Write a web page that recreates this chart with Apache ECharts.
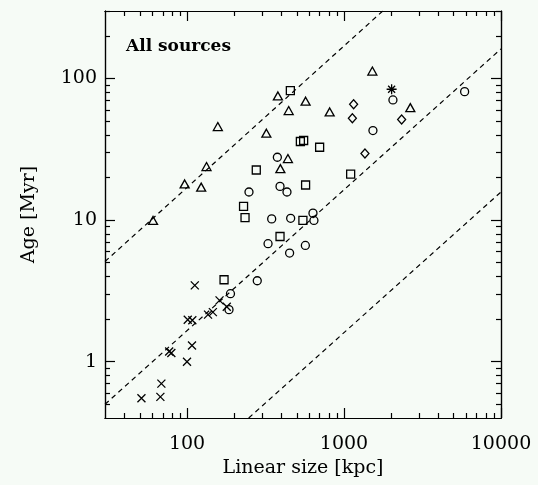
<!DOCTYPE html>
<html>
<head>
<meta charset="utf-8">
<script src="https://cdn.jsdelivr.net/npm/echarts@6/dist/echarts.min.js"></script>
<style>
  html, body { margin: 0; padding: 0; background: #f6fbf6; }
  #chart { width: 538px; height: 485px; }
</style>
</head>
<body>
<div id="chart"></div>
<script>
// linear size [kpc], age [Myr] for each symbol group
const triangles = [
  [157, 45.8], [379, 75.4], [444, 59.4], [320, 41.1], [133, 23.9],
  [96.5, 18.0], [123, 17.1], [60.7, 9.94], [439, 27.2], [393, 23.1],
  [1515, 113], [2644, 62.3], [810, 58.1], [569, 69.2]
];
const squares = [
  [455, 82.1], [276, 22.6], [229, 12.5], [234, 10.4], [391, 7.66],
  [527, 35.9], [553, 36.5], [699, 32.7], [1102, 21.1], [569, 17.7],
  [547, 9.94], [172, 3.79]
];
const circles = [
  [376, 27.8], [248, 15.8], [391, 17.3], [433, 15.8], [346, 10.2],
  [457, 10.3], [634, 11.2], [643, 9.94], [328, 6.81], [450, 5.85],
  [567, 6.62], [280, 3.73], [189, 3.02], [185, 2.33], [2049, 70.6],
  [5865, 80.8], [1528, 42.9]
];
const diamonds = [
  [1151, 65.9], [1130, 52.5], [2328, 51.3], [1359, 29.5]
];
const crosses = [
  [112, 3.46], [161, 2.71], [179, 2.44], [146, 2.24], [136, 2.15],
  [101, 1.98], [108, 1.96], [107.5, 1.30], [79.4, 1.15], [76.9, 1.18],
  [99.9, 1.00], [68.6, 0.70], [67.6, 0.564], [51.2, 0.551]
];
const stars = [[2010, 84.0]];

// dashed reference lines (end points)
const lineUpper = [[30, 5.1], [1765, 300]];
const lineMiddle = [[30, 0.5], [10000, 162]];
const lineLower = [[247, 0.4], [10000, 15.8]];

const xMajor = [100, 1000, 10000];
const xMinor = [40, 50, 60, 70, 80, 90, 200, 300, 400, 500, 600, 700, 800, 900,
  2000, 3000, 4000, 5000, 6000, 7000, 8000, 9000];
const yMajor = [1, 10, 100];
const yMinor = [0.5, 0.6, 0.7, 0.8, 0.9, 2, 3, 4, 5, 6, 7, 8, 9,
  20, 30, 40, 50, 60, 70, 80, 90, 200, 300];

const FONT = 'DejaVu Serif';
const INK = '#000';

function makeAxis(pos, min, max, ticks, len, opts) {
  return Object.assign({
    type: 'log',
    logBase: 10,
    min: min,
    max: max,
    position: pos,
    axisLine: { show: true, onZero: false, lineStyle: { color: INK, width: 1.2 } },
    axisTick: { show: true, inside: true, length: len, customValues: ticks,
      lineStyle: { color: INK, width: 1.2 } },
    axisLabel: { show: false },
    splitLine: { show: false },
    minorTick: { show: false }
  }, opts || {});
}

const labelStyle = { fontFamily: FONT, fontSize: 19, color: INK };

const xAxes = [
  makeAxis('bottom', 30, 10000, xMajor, 10, {
    axisLabel: Object.assign({ show: true, customValues: xMajor, margin: 17,
      formatter: v => String(v) }, labelStyle),
    name: 'Linear size [kpc]',
    nameLocation: 'middle',
    nameGap: 37,
    nameTextStyle: labelStyle
  }),
  makeAxis('bottom', 30, 10000, xMinor, 5),
  makeAxis('top', 30, 10000, xMajor, 10),
  makeAxis('top', 30, 10000, xMinor, 5)
];
const yAxes = [
  makeAxis('left', 0.4, 300, yMajor, 10, {
    axisLabel: Object.assign({ show: true, customValues: yMajor, margin: 8,
      formatter: v => String(v) }, labelStyle),
    name: 'Age [Myr]',
    nameLocation: 'middle',
    nameGap: 66,
    nameTextStyle: labelStyle
  }),
  makeAxis('left', 0.4, 300, yMinor, 5),
  makeAxis('right', 0.4, 300, yMajor, 10),
  makeAxis('right', 0.4, 300, yMinor, 5)
];

function markers(data, symbol, size) {
  return {
    type: 'scatter',
    data: data,
    symbol: symbol,
    symbolSize: size,
    itemStyle: { color: 'none', borderColor: INK, borderWidth: 1.3, opacity: 1 },
    emphasis: { disabled: true },
    silent: true,
    z: 3
  };
}

function dashed(data) {
  return {
    type: 'line',
    data: data,
    symbol: 'none',
    lineStyle: { color: INK, width: 1.2, type: [5, 4] },
    silent: true,
    clip: true,
    z: 2
  };
}

const chart = echarts.init(document.getElementById('chart'));
chart.setOption({
  backgroundColor: '#f6fbf6',
  animation: false,
  grid: { left: 105, right: 37, top: 11, bottom: 67, containLabel: false },
  xAxis: xAxes,
  yAxis: yAxes,
  graphic: [{
    type: 'text',
    left: 126,
    top: 38,
    style: { text: 'All sources', font: 'bold 17px "DejaVu Serif"', fill: INK }
  }],
  series: [
    dashed(lineUpper),
    dashed(lineMiddle),
    dashed(lineLower),
    markers(triangles, 'triangle', [9, 8]),
    markers(squares, 'rect', 8),
    markers(circles, 'circle', 8),
    markers(diamonds, 'diamond', [8, 9]),
    markers(crosses, 'path://M0,0L10,10M10,0L0,10', 8),
    markers(stars, 'path://M5,0L5,10M0,5L10,5M1.5,1.5L8.5,8.5M8.5,1.5L1.5,8.5', 10)
  ]
});
</script>
</body>
</html>
